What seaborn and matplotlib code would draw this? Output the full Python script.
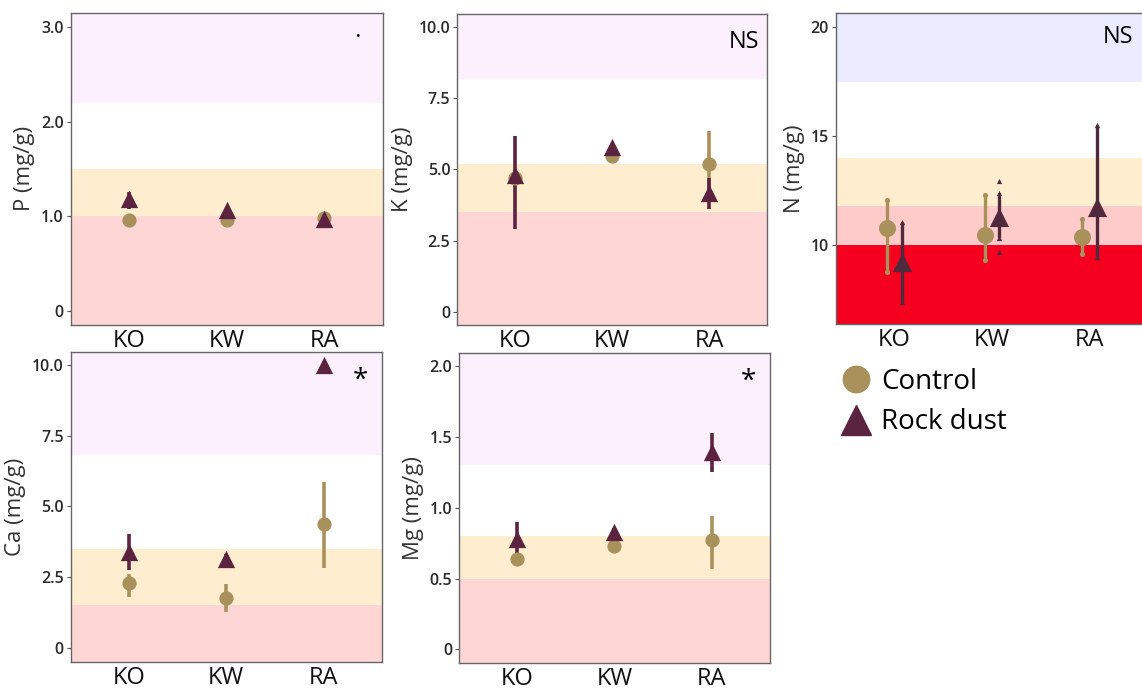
import numpy as np
import pandas as pd
import seaborn as sns
import matplotlib.pyplot as plt
from matplotlib.lines import Line2D

sites = ["KO", "KW", "RA"]
groups = ["Control", "Rock dust"]

# means and error bar ends (low, high) per site
P_ctrl = [0.96, 0.96, 0.98]
P_ctrl_lo = [0.96, 0.96, 0.95]
P_ctrl_hi = [0.96, 0.96, 1.01]
P_rock = [1.18, 1.06, 0.97]
P_rock_lo = [1.08, 1.02, 0.92]
P_rock_hi = [1.26, 1.10, 1.00]

K_ctrl = [4.70, 5.47, 5.20]
K_ctrl_lo = [4.40, 5.35, 4.05]
K_ctrl_hi = [5.00, 5.60, 6.36]
K_rock = [4.80, 5.80, 4.18]
K_rock_lo = [2.90, 5.70, 3.60]
K_rock_hi = [6.18, 5.90, 4.70]

N_ctrl = [10.80, 10.45, 10.35]
N_ctrl_lo = [8.75, 9.30, 9.60]
N_ctrl_hi = [12.07, 12.30, 11.20]
N_rock = [9.23, 11.30, 11.73]
N_rock_lo = [7.40, 10.30, 9.43]
N_rock_hi = [11.07, 12.40, 15.50]
N_rock_extra = [[], [12.94, 9.69], []]

Ca_ctrl = [2.27, 1.76, 4.37]
Ca_ctrl_lo = [1.80, 1.25, 2.80]
Ca_ctrl_hi = [2.60, 2.25, 5.85]
Ca_rock = [3.38, 3.15, 10.0]
Ca_rock_lo = [2.74, 2.90, 10.0]
Ca_rock_hi = [4.03, 3.30, 10.0]

Mg_ctrl = [0.64, 0.73, 0.77]
Mg_ctrl_lo = [0.62, 0.71, 0.565]
Mg_ctrl_hi = [0.66, 0.75, 0.94]
Mg_rock = [0.78, 0.83, 1.39]
Mg_rock_lo = [0.64, 0.80, 1.25]
Mg_rock_hi = [0.90, 0.86, 1.53]

# sufficiency band edges per nutrient
P_bands = [1.0, 1.5, 2.2]
K_bands = [3.5, 5.2, 8.2]
Ca_bands = [1.5, 3.5, 6.8]
Mg_bands = [0.5, 0.8, 1.3]
N_bands = [10.0, 11.8, 14.0, 17.5]

ctrl_color = "#A8915A"
rock_color = "#5C2340"
pink = "#FFD6D6"
cream = "#FFEDCF"
lavender = "#FCF0FF"

sns.set_theme(style="white")
plt.rcParams["font.family"] = ["Open Sans", "DejaVu Sans"]


def make_df(ctrl, ctrl_lo, ctrl_hi, rock, rock_lo, rock_hi):
    rows = []
    for i, s in enumerate(sites):
        rows.append(dict(site=s, idx=i, group="Control", value=ctrl[i], lo=ctrl_lo[i], hi=ctrl_hi[i]))
    for i, s in enumerate(sites):
        rows.append(dict(site=s, idx=i, group="Rock dust", value=rock[i], lo=rock_lo[i], hi=rock_hi[i]))
    return pd.DataFrame(rows)


def draw_panel(ax, df, ylim, ticks, ticklabels, ylabel, bands, band_colors, dodge=0.0,
               ms=(105, 155), lw=2.6, rock_col=rock_color):
    edges = [ylim[0]] + list(bands) + [ylim[1]]
    for j, c in enumerate(band_colors):
        ax.axhspan(edges[j], edges[j + 1], color=c, lw=0, zorder=0)
    df = df.copy()
    df["x"] = df["idx"] + np.where(df["group"] == "Control", -dodge, dodge)
    cols = {"Control": ctrl_color, "Rock dust": rock_col}
    for g, marker, size in zip(groups, ["o", "^"], ms):
        sub = df[df["group"] == g]
        ax.vlines(sub["x"], sub["lo"], sub["hi"], color=cols[g], lw=lw, zorder=2)
        sns.scatterplot(data=sub, x="x", y="value", color=cols[g], marker=marker,
                        s=size, linewidth=0, ax=ax, zorder=3, legend=False)
    ax.set_xlim(-0.6, 2.6)
    ax.set_ylim(*ylim)
    ax.set_xticks(range(len(sites)))
    ax.set_xticklabels(sites, fontsize=17, color="#111111")
    ax.set_yticks(ticks)
    ax.set_yticklabels(ticklabels, fontsize=11.5, color="#2a2a2a", fontweight="semibold")
    ax.set_xlabel("")
    ax.set_ylabel(ylabel, fontsize=16, color="#333333", labelpad=4)
    ax.tick_params(axis="y", length=3, width=0.8, color="#555555", pad=2, left=True)
    ax.tick_params(axis="x", length=0, pad=3)
    for sp in ax.spines.values():
        sp.set_color("#666666")
        sp.set_linewidth(1.0)
    return df


fig = plt.figure(figsize=(11.42, 6.90), dpi=100)
ax_p = fig.add_axes([0.0619, 0.529, 0.2735, 0.4526])
ax_k = fig.add_axes([0.4004, 0.529, 0.2715, 0.4507])
ax_n = fig.add_axes([0.7318, 0.5304, 0.2735, 0.4503])
ax_ca = fig.add_axes([0.0619, 0.041, 0.2726, 0.4493])
ax_mg = fig.add_axes([0.4019, 0.0396, 0.2723, 0.4493])

draw_panel(ax_p, make_df(P_ctrl, P_ctrl_lo, P_ctrl_hi, P_rock, P_rock_lo, P_rock_hi),
           (-0.15, 3.15), [0, 1, 2, 3], ["0", "1.0", "2.0", "3.0"], "P (mg/g)",
           P_bands, [pink, cream, "white", lavender])
ax_p.text(2.35, 2.9, "•", fontsize=9, ha="center", va="center", color="black")

draw_panel(ax_k, make_df(K_ctrl, K_ctrl_lo, K_ctrl_hi, K_rock, K_rock_lo, K_rock_hi),
           (-0.47, 10.47), [0, 2.5, 5, 7.5, 10], ["0", "2.5", "5.0", "7.5", "10.0"], "K (mg/g)",
           K_bands, [pink, cream, "white", lavender])
ax_k.text(0.975, 0.95, "NS", transform=ax_k.transAxes, fontsize=17, ha="right", va="top",
          color="black")

ndf = draw_panel(ax_n, make_df(N_ctrl, N_ctrl_lo, N_ctrl_hi, N_rock, N_rock_lo, N_rock_hi),
                 (6.37, 20.64), [10, 15, 20], ["10", "15", "20"], "N (mg/g)",
                 N_bands, ["#F5001E", "#FFCACA", cream, "white", "#EBEBFF"],
                 dodge=0.075, ms=(150, 190), lw=2.4, rock_col="#4E2A3C")
# small end markers on the N error bars
for g, col, mk in [("Control", ctrl_color, "o"), ("Rock dust", "#4E2A3C", "^")]:
    sub = ndf[ndf["group"] == g]
    ax_n.scatter(np.r_[sub["x"], sub["x"]], np.r_[sub["lo"], sub["hi"]], s=14, marker=mk,
                 color=col, zorder=3, linewidth=0)
for i, extra in enumerate(N_rock_extra):
    if extra:
        ax_n.scatter([i + 0.075] * len(extra), extra, s=14, marker="^", color="#4E2A3C",
                     zorder=3, linewidth=0)
ax_n.text(2.14, 19.55, "NS", fontsize=17, ha="left", va="center", color="black")

draw_panel(ax_ca, make_df(Ca_ctrl, Ca_ctrl_lo, Ca_ctrl_hi, Ca_rock, Ca_rock_lo, Ca_rock_hi),
           (-0.5, 10.47), [0, 2.5, 5, 7.5, 10], ["0", "2.5", "5.0", "7.5", "10.0"], "Ca (mg/g)",
           Ca_bands, [pink, cream, "white", lavender])
ax_ca.text(0.955, 0.95, "*", transform=ax_ca.transAxes, fontsize=20, ha="right", va="top",
           color="black")

draw_panel(ax_mg, make_df(Mg_ctrl, Mg_ctrl_lo, Mg_ctrl_hi, Mg_rock, Mg_rock_lo, Mg_rock_hi),
           (-0.094, 2.094), [0, 0.5, 1, 1.5, 2], ["0", "0.5", "1.0", "1.5", "2.0"], "Mg (mg/g)",
           Mg_bands, [pink, cream, "white", lavender])
ax_mg.text(0.955, 0.95, "*", transform=ax_mg.transAxes, fontsize=20, ha="right", va="top",
           color="black")

handles = [
    Line2D([], [], marker="o", ls="none", color=ctrl_color, markersize=19),
    Line2D([], [], marker="^", ls="none", color=rock_color, markersize=22),
]
leg = fig.legend(handles, groups, loc="upper left", bbox_to_anchor=(0.728, 0.483), frameon=False,
                 fontsize=20, handlelength=1.0, handletextpad=0.4, labelspacing=0.45,
                 borderaxespad=0)
for t in leg.get_texts():
    t.set_color("black")

fig.savefig("out.png", dpi=100)
